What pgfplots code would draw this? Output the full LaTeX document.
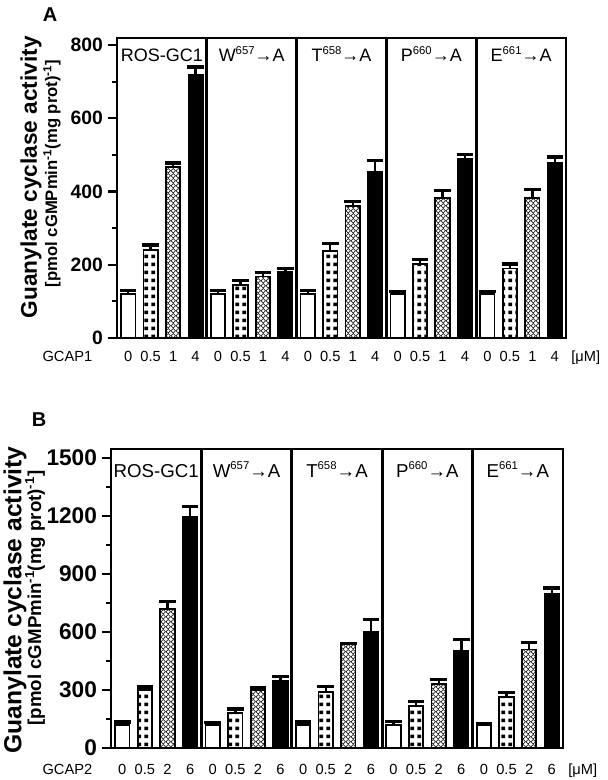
\documentclass[border=0pt]{standalone}
\usepackage{fontspec}
\setmainfont{Liberation Sans}
\usepackage{pgfplots}
\pgfplotsset{compat=1.18}
\usetikzlibrary{patterns}

\pgfdeclarepatternformonly{sqdots}{\pgfpointorigin}{\pgfqpoint{5.4pt}{6pt}}{\pgfqpoint{5.4pt}{6pt}}{%
  \pgfpathrectangle{\pgfqpoint{1.2pt}{1.6pt}}{\pgfqpoint{3.0pt}{2.8pt}}\pgfusepath{fill}}
\pgfdeclarepatternformonly{xhatch}{\pgfpointorigin}{\pgfqpoint{3.9pt}{3.9pt}}{\pgfqpoint{3.9pt}{3.9pt}}{%
  \pgfsetlinewidth{0.55pt}%
  \pgfpathmoveto{\pgfqpoint{0pt}{1.95pt}}\pgfpathlineto{\pgfqpoint{1.95pt}{3.9pt}}%
  \pgfpathlineto{\pgfqpoint{3.9pt}{1.95pt}}\pgfpathlineto{\pgfqpoint{1.95pt}{0pt}}\pgfpathclose
  \pgfusepath{stroke}}

\pgfplotsset{
  gcstyle/.style={
    scale only axis, anchor=south west,
    xmin=0, xmax=20, ymin=0,
    axis line style={line width=2.2pt},
    ytick pos=left, tick align=outside,
    minor y tick num=1,
    major tick length=7pt, minor tick length=4pt,
    every tick/.style={line width=1.6pt, black},
    /pgf/number format/assume math mode=true,
    /pgf/number format/1000 sep={},
    xtick={0.5,1.5,2.5,3.5,4.5,5.5,6.5,7.5,8.5,9.5,10.5,11.5,12.5,13.5,14.5,15.5,16.5,17.5,18.5,19.5},
    x tick style={draw=none},
    clip=false,
  },
  barA/.style={ybar, bar width=10.8pt, bar shift=0pt, draw=black, line width=1.3pt,
    error bars/.cd, y dir=plus, y explicit,
    error bar style={line width=1.8pt, black},
    error mark options={rotate=90, line width=2.4pt, mark size=6.2pt, black}},
}

\newcommand{\grp}[2]{#1\raisebox{0.42em}{\fontsize{8.5}{8.5}\selectfont #2}→A}

\begin{document}
\begin{tikzpicture}
\useasboundingbox (0,0) rectangle (455.25pt,585pt);

% ---------------- Panel A ----------------
\begin{axis}[gcstyle,
  at={(87.75pt,331.5pt)}, width=336.75pt, height=225pt,
  ymax=819, ytick={0,200,400,600,800},
  yticklabel style={font=\fontsize{14.5}{14.5}\selectfont\bfseries},
  xticklabels={0,0.5,1,4,0,0.5,1,4,0,0.5,1,4,0,0.5,1,4,0,0.5,1,4},
  xticklabel style={font=\fontsize{11}{11}\selectfont, anchor=base, yshift=-11pt},
]
\addplot[fill=white, barA] coordinates {
 (0.5,120) +- (0,10) (4.5,120) +- (0,10) (8.5,120) +- (0,9) (12.5,120) +- (0,8) (16.5,120) +- (0,8)};
\addplot[pattern=sqdots, pattern color=black, barA] coordinates {
 (1.5,240) +- (0,14) (5.5,145) +- (0,13) (9.5,238) +- (0,19) (13.5,202) +- (0,13) (17.5,190) +- (0,12)};
\addplot[pattern=xhatch, pattern color=black, barA] coordinates {
 (2.5,466) +- (0,12) (6.5,168) +- (0,11) (10.5,360) +- (0,13) (14.5,382) +- (0,20) (18.5,382) +- (0,24)};
\addplot[fill=black, barA] coordinates {
 (3.5,718) +- (0,22) (7.5,180) +- (0,10) (11.5,453) +- (0,31) (15.5,490) +- (0,11) (19.5,478) +- (0,16)};
\foreach \xs in {4,8,12,16}{
  \edef\tmp{\noexpand\draw[line width=2pt] (axis cs:\xs,0) -- (axis cs:\xs,819);}\tmp}
\begin{scope}[every node/.style={anchor=base, font=\fontsize{13.5}{13.5}\selectfont}]
\node at (axis cs:2,754) {ROS-GC1};
\node at (axis cs:6,754) {\grp{W}{657}};
\node at (axis cs:10,754) {\grp{T}{658}};
\node at (axis cs:14,754) {\grp{P}{660}};
\node at (axis cs:18,754) {\grp{E}{661}};
\end{scope}
\node[anchor=base east, font=\fontsize{11}{11}\selectfont, yshift=-18pt, xshift=-15pt] at (rel axis cs:0,0) {GCAP1};
\node[anchor=base west, font=\fontsize{11}{11}\selectfont, yshift=-18pt, xshift=0.5pt] at (rel axis cs:1,0) {[μM]};
\end{axis}

% ---------------- Panel B ----------------
\begin{axis}[gcstyle,
  at={(83.25pt,24pt)}, width=339pt, height=224.25pt,
  ymax=1547, ytick={0,300,600,900,1200,1500},
  yticklabel style={font=\fontsize{17}{17}\selectfont\bfseries},
  xticklabels={0,0.5,2,6,0,0.5,2,6,0,0.5,2,6,0,0.5,2,6,0,0.5,2,6},
  xticklabel style={font=\fontsize{11}{11}\selectfont, anchor=base, yshift=-13pt},
]
\addplot[fill=white, barA] coordinates {
 (0.5,120) +- (0,15) (4.5,120) +- (0,12) (8.5,120) +- (0,15) (12.5,120) +- (0,16) (16.5,120) +- (0,6)};
\addplot[pattern=sqdots, pattern color=black, barA] coordinates {
 (1.5,300) +- (0,16) (5.5,180) +- (0,22) (9.5,288) +- (0,32) (13.5,218) +- (0,22) (17.5,265) +- (0,24)};
\addplot[pattern=xhatch, pattern color=black, barA] coordinates {
 (2.5,720) +- (0,36) (6.5,298) +- (0,12) (10.5,535) +- (0,6) (14.5,332) +- (0,24) (18.5,510) +- (0,37)};
\addplot[fill=black, barA] coordinates {
 (3.5,1198) +- (0,50) (7.5,348) +- (0,20) (11.5,600) +- (0,64) (15.5,505) +- (0,57) (19.5,795) +- (0,33)};
\foreach \xs in {4,8,12,16}{
  \edef\tmp{\noexpand\draw[line width=2pt] (axis cs:\xs,0) -- (axis cs:\xs,1547);}\tmp}
\begin{scope}[every node/.style={anchor=base, font=\fontsize{14}{14}\selectfont}]
\node at (axis cs:2,1402) {ROS-GC1};
\node at (axis cs:6,1402) {\grp{W}{657}};
\node at (axis cs:10,1402) {\grp{T}{658}};
\node at (axis cs:14,1402) {\grp{P}{660}};
\node at (axis cs:18,1402) {\grp{E}{661}};
\end{scope}
\node[anchor=base east, font=\fontsize{11}{11}\selectfont, yshift=-20pt, xshift=-10.5pt] at (rel axis cs:0,0) {GCAP2};
\node[anchor=base west, font=\fontsize{11}{11}\selectfont, yshift=-20pt, xshift=0.5pt] at (rel axis cs:1,0) {[μM]};
\end{axis}

% Y labels
\node[rotate=90, font=\fontsize{17}{17}\selectfont\bfseries] at (23.25pt,452pt) {Guanylate cyclase activity};
\node[rotate=90, font=\fontsize{12.5}{12.5}\selectfont\bfseries] at (39pt,455pt) {[pmol cGMPmin\textsuperscript{-1}(mg prot)\textsuperscript{-1}]};
\node[rotate=90, font=\fontsize{18.5}{18.5}\selectfont\bfseries] at (11.25pt,135pt) {Guanylate cyclase activity};
\node[rotate=90, font=\fontsize{14}{14}\selectfont\bfseries] at (26.25pt,136.5pt) {[pmol cGMPmin\textsuperscript{-1}(mg prot)\textsuperscript{-1}]};
% panel letters
\node[font=\fontsize{15}{15}\selectfont\bfseries] at (37.5pt,573.75pt) {A};
\node[font=\fontsize{15}{15}\selectfont\bfseries] at (29.25pt,270pt) {B};
\end{tikzpicture}
\end{document}
